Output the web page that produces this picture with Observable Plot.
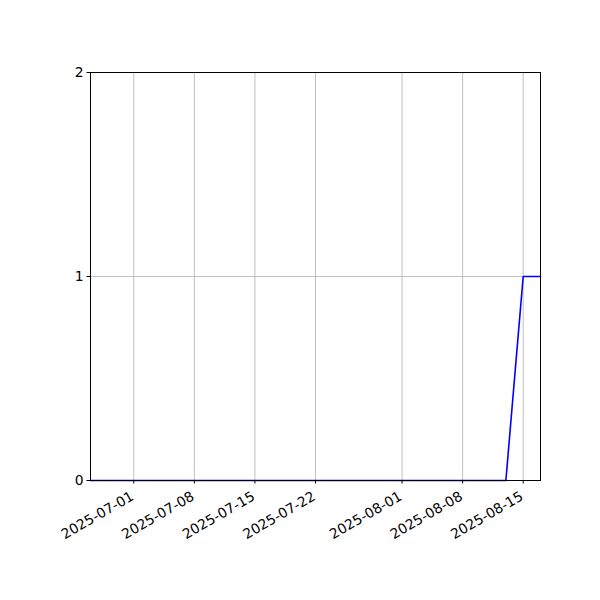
<!DOCTYPE html>
<html>
<head>
<meta charset="utf-8">
<script src="https://cdn.jsdelivr.net/npm/d3@7"></script>
<script src="https://cdn.jsdelivr.net/npm/@observablehq/plot@0.6"></script>
<style>
body { margin: 0; background: #fff; }
</style>
</head>
<body>
<div id="chart"></div>
<script>
const dates = ["2025-06-26", "2025-08-13", "2025-08-15", "2025-08-17"];
const values = [0, 0, 1, 1];
const xTicks = ["2025-07-01", "2025-07-08", "2025-07-15", "2025-07-22", "2025-08-01", "2025-08-08", "2025-08-15"];
const yTicks = [0, 1, 2];

const parse = d3.utcParse("%Y-%m-%d");
const fmt = d3.utcFormat("%Y-%m-%d");
const data = dates.map((d, i) => ({date: parse(d), value: values[i]}));
const xTickDates = xTicks.map(parse);
const xDomain = [parse("2025-06-26"), parse("2025-08-17")];

const chart = Plot.plot({
  width: 600,
  height: 600,
  marginLeft: 90,
  marginRight: 60,
  marginTop: 72,
  marginBottom: 120,
  style: {fontFamily: "DejaVu Sans", fontSize: "13.9px", color: "#000", background: "#fff"},
  x: {type: "utc", domain: xDomain},
  y: {domain: [0, 2]},
  marks: [
    Plot.gridX(xTickDates, {stroke: "#b0b0b0", strokeOpacity: 1, strokeWidth: 0.8}),
    Plot.gridY(yTicks, {stroke: "#b0b0b0", strokeOpacity: 1, strokeWidth: 0.8}),
    Plot.line(data, {x: "date", y: "value", stroke: "#0000ff", strokeWidth: 1.6}),
    Plot.frame({stroke: "#000", strokeWidth: 1}),
    Plot.axisY(yTicks, {tickSize: 3.5, tickPadding: 3.5, tickFormat: d => String(d), label: null, fontSize: 13.9}),
    Plot.axisX(xTickDates, {tickSize: 3.5, tickFormat: () => "", label: null}),
    Plot.text(xTickDates, {
      x: d => d, y: () => 0, text: d => fmt(d),
      rotate: -30, textAnchor: "end", lineAnchor: "top",
      dy: 10, dx: -4, fontSize: 13.9, fill: "#000"
    })
  ]
});
document.getElementById("chart").appendChild(chart);
</script>
</body>
</html>
